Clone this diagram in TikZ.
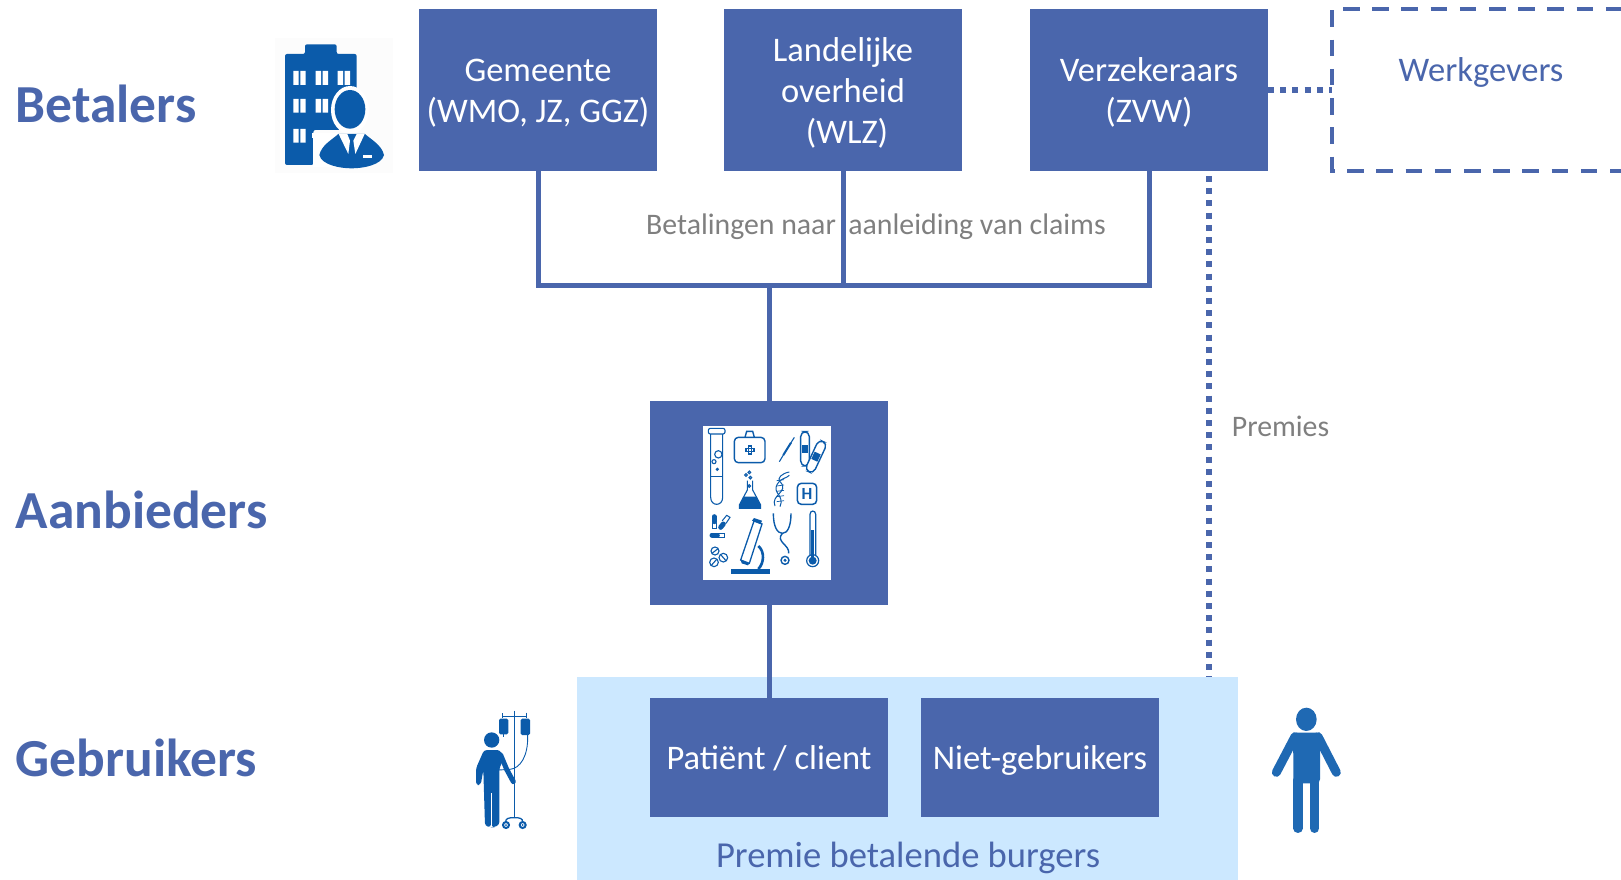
\documentclass[tikz,border=0pt]{standalone}
\usepackage{fontspec}
\setmainfont{Carlito}
\definecolor{boxblue}{HTML}{4A66AC}
\definecolor{palesky}{HTML}{CCE8FF}
\definecolor{greytxt}{HTML}{7F7F7F}
\definecolor{iconblue}{HTML}{0B5BAA}
\definecolor{manblue}{HTML}{1F69B3}
\newcommand{\boxfont}{\fontsize{34.5}{41}\selectfont}
\newcommand{\lowertop}{\rule{0pt}{36.7pt}}
\tikzset{
  bluebox/.style={fill=boxblue,text=white,inner sep=0pt,outer sep=0pt,minimum width=238pt,align=center,font=\boxfont},
  rowlabel/.style={anchor=west,text=boxblue,inner sep=0pt,font=\fontsize{53.5}{60}\selectfont\bfseries},
  solidline/.style={draw=boxblue,line width=5pt},
  dotline/.style={draw=boxblue,line width=5.5pt,dash pattern=on 6pt off 6.2pt},
  dashline/.style={draw=boxblue,line width=4pt,dash pattern=on 16.5pt off 12.7pt},
  greynote/.style={text=greytxt,inner sep=0pt,font=\fontsize{29.8}{34}\selectfont},
  iconscope/.style={x=0.33333pt,y=-0.33333pt},
}
\begin{document}
\begin{tikzpicture}[x=1pt,y=-1pt]
\useasboundingbox (0,0) rectangle (1621,880);

% light panel
\node[fill=palesky,inner sep=0pt,outer sep=0pt,minimum width=661pt,minimum height=203pt] (burgers) at (907.5,778.5) {};

% paying boxes
\node[bluebox,minimum height=162pt] (gemeente) at (538,90) {\lowertop Gemeente\\(WMO, JZ, GGZ)\strut};
\node[bluebox,minimum height=162pt] (landelijk) at (843,90) {\lowertop Landelijke\\overheid\\\hspace*{8pt}(WLZ)\strut};
\node[bluebox,minimum height=162pt] (verzek) at (1149,90) {\lowertop Verzekeraars\\(ZVW)\strut};
\node[inner sep=0pt,outer sep=0pt,minimum width=298pt,minimum height=161pt] (werkbox) at (1481,90) {};
\node[text=boxblue,inner sep=0pt,font=\boxfont] (werktext) at (1481,73) {\strut Werkgevers};

% middle and lower boxes
\node[bluebox,minimum height=204pt] (aanbieder) at (769,503) {};
\node[bluebox,minimum height=119pt] (patient) at (769,757.5) {\lowertop Patiënt / client\strut};
\node[bluebox,minimum height=119pt] (niet) at (1040,757.5) {\lowertop Niet-gebruikers\strut};

% connectors
\coordinate (bus) at (769,285);
\draw[solidline] (gemeente.south) |- (bus);
\draw[solidline] (verzek.south) |- (bus);
\draw[solidline] (landelijk.south) -- (landelijk.south |- bus);
\draw[solidline] (bus) -- (aanbieder.north);
\draw[solidline] (aanbieder.south) -- (patient.north);
\draw[dotline] (verzek.east) -- (werkbox.west);
\coordinate (premietop) at (1209,176);
\draw[dotline] (premietop) -- (premietop |- burgers.north);

% dashed employer frame
\draw[dashline] (werkbox.north west) ++(0,1) -- (werkbox.south west) -- (werkbox.south east);
\coordinate (topstart) at (1343,9);
\draw[dashline] (topstart) -- (topstart -| werkbox.east);

% labels
\node[rowlabel] (lbetalers) at (15.5,104) {Betalers};
\node[rowlabel] (laanbieders) at (15.5,510) {Aanbieders};
\node[rowlabel] (lgebruikers) at (15.5,758) {Gebruikers};
\node[greynote] (lclaims) at (876,227) {Betalingen naar\hspace{.42em}aanleiding van claims};
\node[greynote] (lpremies) at (1280.5,426) {Premies};
\node[text=boxblue,inner sep=0pt,font=\fontsize{36.6}{42}\selectfont] (lburgers) at (908,858) {Premie betalende burgers};

% building and officer icon
\begin{scope}[shift={(260,20)},iconscope]
\fill[black!1] (45,55) rectangle (400,460);
\fill[iconblue,rounded corners=2pt] (75,102) -- (135,102) -- (135,73) -- (230,73) -- (230,102) -- (290,102) -- (290,330) -- (160,330) -- (160,435) -- (75,435) -- cycle;
\foreach \cx in {100,167,233} {\fill[white] (\cx,153) rectangle ++(16,42) (\cx+21,153) rectangle ++(16,42);}
\foreach \cx in {100,167} {\fill[white] (\cx,237) rectangle ++(16,41) (\cx+21,237) rectangle ++(16,41);}
\fill[white] (100,327) rectangle ++(16,41) (121,327) rectangle ++(16,41);
\fill[white] (155,338) rectangle (240,355);
\fill[white] (160,355) rectangle (300,440);
\fill[white] (270,270) ellipse [x radius=57,y radius=72];
\fill[iconblue] (270,268) ellipse [x radius=46,y radius=58];
\fill[iconblue] (178,405) .. controls (185,375) and (215,360) .. (235,342) -- (315,342) .. controls (335,360) and (365,375) .. (372,405) .. controls (365,435) and (310,445) .. (275,445) .. controls (240,445) and (185,435) .. (178,405) -- cycle;
\fill[white] (236,342) -- (262,342) -- (270,362) -- (265,402) -- cycle;
\fill[white] (314,342) -- (290,342) -- (280,362) -- (286,402) -- cycle;
\fill[white] (308,405) rectangle (335,414);
\end{scope}

% white square with medical icons
\fill[white] (703,426) rectangle (831,580);
\begin{scope}[shift={(690,410)},iconscope,draw=iconblue,line width=1.1pt]
% test tube
\draw[rounded corners=2pt] (55,55) rectangle (105,72);
\draw (62,72) -- (62,262) .. controls (62,290) and (98,290) .. (98,262) -- (98,72);
\draw (62,200) -- (98,200);
\draw (85,133) circle (11) (72,155) circle (6) (82,178) circle (3);
% first aid kit
\draw[line width=1.4pt,rounded corners=4pt] (133,82) rectangle (225,158);
\draw[line width=1.4pt] (165,82) -- (170,64) -- (188,64) -- (193,82);
\draw (175,108) rectangle (185,132) (168,115) rectangle (192,125);
% syringe
\draw (268,155) -- (280,135);
\draw[line width=2pt] (280,135) -- (303,98);
\draw (303,98) -- (313,82);
% bandages
\draw[line width=1.4pt,rounded corners=5pt] (332,65) rectangle (358,168);
\fill[iconblue] (336,104) rectangle (354,128);
\begin{scope}[rotate around={-25:(378,140)}]
\fill[white] (364,90) rectangle (392,190);
\draw[line width=1.4pt,rounded corners=5pt] (364,90) rectangle (392,190);
\fill[iconblue] (368,128) rectangle (388,152);
\end{scope}
% flask
\draw (172,212) -- (172,240) -- (148,285) -- (148,295) -- (212,295) -- (212,285) -- (188,240) -- (188,212);
\fill[iconblue] (160,260) -- (200,260) -- (212,285) -- (212,295) -- (148,295) -- (148,285) -- cycle;
\draw (168,195) circle (4) (178,187) circle (4) (181,203) circle (4);
\draw (178,228) circle (4);
% DNA
\draw[line width=1pt] (255,288) .. controls (240,255) and (300,245) .. (270,215) .. controls (260,205) and (275,190) .. (298,186);
\draw[line width=1pt] (270,290) .. controls (285,255) and (245,250) .. (262,222) .. controls (270,205) and (290,205) .. (298,196);
\foreach \ry in {212,228,244,260,275} {\draw[line width=.7pt] (260,\ry) -- (282,\ry-3);}
% H
\draw[line width=1.5pt,rounded corners=4pt] (322,220) rectangle (380,283);
\node[text=iconblue,inner sep=0pt,font=\fontsize{17}{17}\selectfont\bfseries] (hsign) at (351,252) {H};
% pills
\draw[line width=5pt,line cap=round,iconblue] (72,320) -- (72,335);
\draw[line cap=round,line width=1pt] (66,338) -- (66,356) -- (78,356) -- (78,338);
\draw[line width=5pt,line cap=round,iconblue] (92,352) -- (100,342);
\draw[line cap=round,line width=1pt] (97,332) -- (110,316) -- (120,322) -- (108,340);
\draw[line width=5pt,line cap=round,iconblue] (66,375) -- (82,375);
\draw[line cap=round,line width=1pt] (84,369) -- (104,369) -- (104,381) -- (84,381);
% tablets
\draw (75,423) circle (12) (100,443) circle (13) (72,457) circle (13);
\draw (66,430) -- (84,416) (92,434) -- (108,452) (64,466) -- (80,448);
% microscope
\fill[iconblue] (123,476) rectangle (241,492);
\draw[line width=1.3pt] (192,333) -- (216,342) -- (178,460) -- (152,450) -- cycle;
\fill[iconblue] (152,450) -- (178,460) -- (174,466) -- (155,460) -- cycle;
\draw[line width=2.6pt] (205,408) .. controls (225,425) and (222,460) .. (205,477);
\fill[iconblue] (186,332) -- (212,342) -- (216,332) -- (192,324) -- cycle;
% stethoscope
\draw[line width=1.4pt] (250,310) .. controls (250,350) and (262,370) .. (277,370) .. controls (292,370) and (303,350) .. (303,310);
\draw[line width=1.4pt] (277,370) .. controls (255,395) and (300,405) .. (296,430);
\draw[line width=1.4pt] (285,451) circle (12);
\fill[iconblue] (285,451) circle (5);
% thermometer
\draw[line width=1.2pt] (360,437) -- (360,313) .. controls (360,300) and (377,300) .. (377,313) -- (377,437);
\draw[line width=1.2pt] (368,452) circle (18);
\fill[iconblue] (364,360) rectangle (373,445);
\fill[iconblue] (368,452) circle (12);
\end{scope}

% patient on drip
\begin{scope}[shift={(460,690)},iconscope,fill=iconblue]
\fill (95,150) circle (23);
\fill[rounded corners=3pt] (72,180) -- (120,180) -- (132,205) -- (118,235) -- (118,405) -- (100,412) -- (95,412) -- (93,300) -- (93,412) -- (75,408) -- (70,240) -- (62,285) -- (48,285) -- (48,235) -- cycle;
\draw[white,line width=.8pt] (94,310) -- (94,412);
\draw[iconblue,line width=5pt,line cap=round] (122,195) -- (140,238) -- (160,275);
\draw[iconblue,line width=1.5pt] (163,62) -- (163,382);
\draw[iconblue,line width=1.2pt] (128,80) -- (200,80) (128,70) -- (128,85) (200,68) -- (200,85);
\fill[rounded corners=1.5pt] (117,86) rectangle (145,133);
\fill[rounded corners=1.5pt] (182,86) rectangle (210,135);
\draw[iconblue,line width=.9pt] (131,133) -- (131,142);
\draw[iconblue,line width=.9pt] (203,135) .. controls (205,200) and (180,235) .. (150,238) -- (115,240);
\draw[iconblue,line width=1.3pt] (137,396) .. controls (137,385) and (145,383) .. (163,383) .. controls (180,383) and (188,385) .. (188,396);
\draw[iconblue,line width=2pt] (138,405) circle (9) (188,405) circle (9);
\fill (138,405) circle (3) (188,405) circle (3);
\end{scope}

% standing person
\begin{scope}[shift={(1250,690)},iconscope,fill=manblue]
\fill (169,88) ellipse [x radius=31,y radius=35];
\draw[manblue,line width=9pt,line cap=round] (135,140) -- (79,247);
\draw[manblue,line width=9pt,line cap=round] (204,140) -- (259,247);
\fill[rounded corners=4pt] (125,128) -- (213,128) -- (210,190) -- (210,280) -- (130,280) -- (130,190) -- cycle;
\draw[manblue,line width=9.3pt,line cap=round] (144,270) -- (144,415);
\draw[manblue,line width=9.3pt,line cap=round] (194,270) -- (194,415);
\end{scope}
\end{tikzpicture}
\end{document}
